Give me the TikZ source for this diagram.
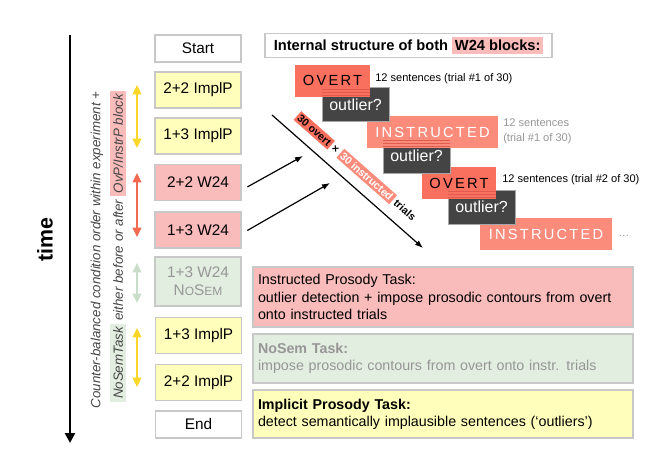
\documentclass[tikz,border=0pt]{standalone}
\usepackage{fontspec}
\setmainfont{Liberation Sans}
\newfontfamily\spacedfont[LetterSpace=15]{Liberation Sans}
\usetikzlibrary{arrows.meta}
\definecolor{boxgray}{RGB}{200,200,200}
\definecolor{boxyellow}{RGB}{255,255,187}
\definecolor{w24pink}{RGB}{250,187,187}
\definecolor{nosemgreen}{RGB}{226,239,224}
\definecolor{overtred}{RGB}{250,112,94}
\definecolor{instrsalmon}{RGB}{251,140,124}
\definecolor{outdark}{RGB}{68,68,68}
\definecolor{stripered}{RGB}{224,92,78}
\definecolor{notegray}{RGB}{150,150,150}
\definecolor{textdark}{RGB}{70,70,70}
\definecolor{arrowyellow}{RGB}{249,214,40}
\definecolor{arrowred}{RGB}{243,106,82}
\definecolor{arrowgreen}{RGB}{200,222,200}
\newcommand{\fakesmallcaps}[1]{{\fontsize{9}{10}\selectfont #1}}

\begin{document}
\begin{tikzpicture}[x=0.75pt,y=0.75pt,yscale=-1,xscale=1,
  stage/.style={draw=boxgray,line width=0.8pt,minimum width=64.5pt,minimum height=27pt,inner sep=0pt,align=center,font=\fontsize{11.5}{13.5}\selectfont},
  cond/.style={minimum height=24pt,inner sep=0pt,font=\spacedfont\fontsize{11}{13}\selectfont},
  outlier/.style={draw=gray!70,line width=0.5pt,fill=outdark,text=white,minimum width=50.25pt,minimum height=25.5pt,inner sep=0pt,font=\fontsize{12}{14}\selectfont},
  task/.style={draw=boxgray,line width=0.8pt,text width=277.5pt,inner xsep=3.75pt,inner ysep=0pt,align=left,font=\fontsize{10.7}{13}\selectfont},
  swap/.style={line width=1.5pt,{Triangle[width=6.5pt,length=7pt]}-{Triangle[width=6.5pt,length=7pt]}},
  note/.style={inner sep=0pt,font=\fontsize{8.3}{11}\selectfont},
  stripe/.style={draw=stripered,line width=0.75pt},
  feed/.style={line width=0.9pt,-{Latex[length=6pt,width=4.5pt]}}
]
\useasboundingbox (0,0) rectangle (671,472);

% Time axis
\coordinate (ttop) at (70,35);
\coordinate (tbot) at (70,443);
\draw [line width=2.2pt,-{Triangle[width=7.5pt,length=7.5pt]}] (ttop) -- (tbot);
% Text Node
\draw (45,240) node [rotate=90,font=\bfseries\fontsize{16}{18}\selectfont] (timelbl) {time};
% Text Node
\draw (97,250) node [rotate=90,inner sep=0pt,text=textdark,font=\itshape\fontsize{10}{12}\selectfont] (orderA) {Counter-balanced condition order within experiment +};
% Text Node
\draw (118,246.5) node [rotate=90,inner sep=0pt,text=textdark,font=\itshape\fontsize{10}{12}\selectfont] (orderB) {\setlength{\fboxsep}{2pt}\colorbox{nosemgreen}{NoSemTask} either before or after \colorbox{w24pink}{OvP/InstrP block}};

% Session blocks
\draw (198,48.5) node [stage,fill=white,minimum height=20.25pt] (start) {Start};
\draw (198,90) node [stage,fill=boxyellow] (implA) {2+2 ImplP};
\draw (198,136) node [stage,fill=boxyellow] (implB) {1+3 ImplP};
\draw (198,182.5) node [stage,fill=w24pink] (w24A) {2+2 W24};
\draw (198,230) node [stage,fill=w24pink] (w24B) {1+3 W24};
\draw (198,281.5) node [stage,fill=nosemgreen,text=notegray,minimum height=36.75pt] (nosem) {1+3 W24\\N\fakesmallcaps{O}S\fakesmallcaps{EM}};
\draw (198.5,335.5) node [stage,fill=boxyellow] (implC) {1+3 ImplP};
\draw (198.5,382.5) node [stage,fill=boxyellow] (implD) {2+2 ImplP};
\draw (198.5,424.5) node [stage,fill=white,minimum height=20.25pt] (end) {End};

% Swap arrows
\coordinate (swapAt) at (137,85);
\coordinate (swapAb) at (137,148);
\coordinate (swapBt) at (137,173);
\coordinate (swapBb) at (137,237);
\coordinate (swapCt) at (137,263);
\coordinate (swapCb) at (137,303);
\coordinate (swapDt) at (137,328);
\coordinate (swapDb) at (137,387);
\draw [swap,arrowyellow] (swapAt) -- (swapAb);
\draw [swap,arrowred] (swapBt) -- (swapBb);
\draw [swap,arrowgreen] (swapCt) -- (swapCb);
\draw [swap,arrowyellow] (swapDt) -- (swapDb);

% Text Node
\draw (408.5,45.5) node [draw=boxgray,line width=0.8pt,minimum width=215.25pt,minimum height=18pt,inner sep=0pt,font=\bfseries\fontsize{11}{12}\selectfont] (header) {Internal structure of both \setlength{\fboxsep}{2pt}\colorbox{w24pink}{W24 blocks:}};

% Trial cascade (drawn back to front)
\draw (546,234) node [cond,fill=instrsalmon,text=white,minimum width=99pt] (instrB) {INSTRUCTED};
\draw (481.5,207) node [outlier] (outC) {outlier?};
\draw (459,183) node [cond,fill=overtred,minimum width=55.5pt] (overtB) {OVERT};
\foreach \y in {191,194,197} \draw [stripe] (448,\y) -- (496,\y);
\draw (416.5,156) node [outlier] (outB) {outlier?};
\draw (432.5,132) node [cond,fill=instrsalmon,text=white,minimum width=98.25pt] (instrA) {INSTRUCTED};
\foreach \y in {140,143,146} \draw [stripe] (383,\y) -- (450,\y);
\draw (355.5,104.5) node [outlier] (outA) {outlier?};
\draw (332.5,80.5) node [cond,fill=overtred,minimum width=56.25pt] (overtA) {OVERT};
\foreach \y in {89,92,95} \draw [stripe] (322,\y) -- (370,\y);

% Text Node
\draw (375,79) node [anchor=west,note] (noteA) {12 sentences (trial \#1 of 30)};
\draw (503,131.5) node [anchor=west,note,text=notegray,align=left] (noteB) {12 sentences\\(trial \#1 of 30)};
\draw (502,180) node [anchor=west,note] (noteC) {12 sentences (trial \#2 of 30)};
\draw (618,236) node [anchor=west,note,text=notegray] (dots) {\dots};

% Trial sequence arrow
\coordinate (seqA) at (272,115);
\coordinate (seqB) at (423,248);
\draw [feed] (seqA) -- (seqB);
% Text Node
\draw (356,167) node [rotate=-41.4,inner sep=0pt,font=\bfseries\fontsize{8}{9}\selectfont] (seqlbl) {\setlength{\fboxsep}{1.5pt}\colorbox{overtred}{30 overt} × \colorbox{instrsalmon}{\textcolor{white}{30 instructed}} trials};
\coordinate (hitA) at (303,156);
\coordinate (hitB) at (330,183);
\draw [feed,shorten <=5pt] (w24A.-10) -- (hitA);
\draw [feed,shorten <=5pt] (w24B.-5) -- (hitB);

% Task descriptions
\draw (443,297) node [task,fill=w24pink,minimum height=45pt] (taskInstr) {Instructed Prosody Task:\\outlier detection + impose prosodic contours from overt\\onto instructed trials};
\draw (443,358.5) node [task,fill=nosemgreen,text=notegray,minimum height=36.75pt] (taskNoSem) {{\bfseries NoSem Task:}\\impose prosodic contours from overt onto instr. trials};
\draw (443,414) node [task,fill=boxyellow,minimum height=36pt] (taskImpl) {{\bfseries Implicit Prosody Task:}\\detect semantically implausible sentences (‘outliers’)};

\end{tikzpicture}
\end{document}
